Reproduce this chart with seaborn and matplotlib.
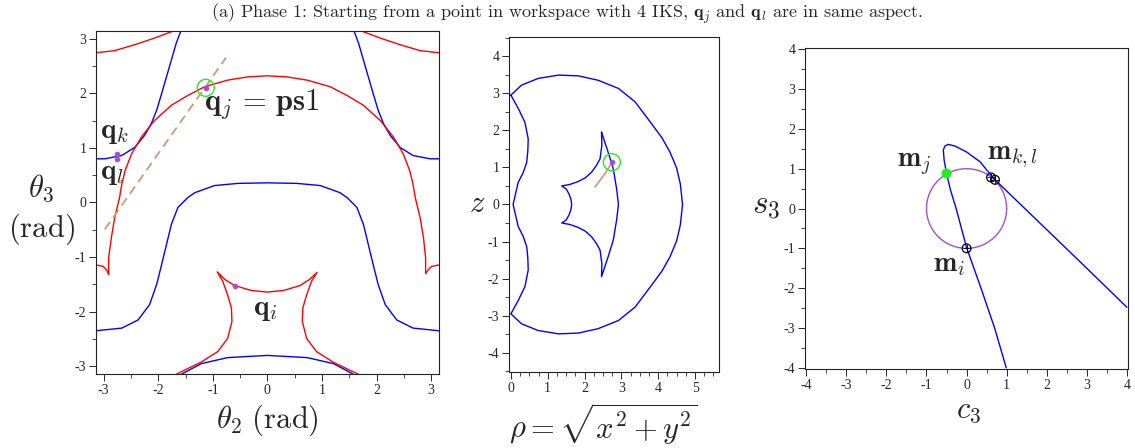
import numpy as np
import pandas as pd
import matplotlib
matplotlib.use("Agg")
import matplotlib.pyplot as plt
import seaborn as sns
from matplotlib.ticker import MultipleLocator

# ---------------- data ----------------
# Left panel: joint space (theta2, theta3)
red_arch_t2 = [-2.91, -2.91, -2.86, -2.80, -2.71, -2.67, -2.61, -2.49, -2.31, -2.07, -1.76, -1.46, -1.15, -0.73, -0.36, 0.0,
               0.36, 0.73, 1.15, 1.46, 1.76, 2.07, 2.31, 2.49, 2.61, 2.67, 2.71, 2.80, 2.86, 2.90, 2.90]
red_arch_t3 = [-1.32, -1.01, -0.64, -0.28, 0.09, 0.33, 0.58, 0.89, 1.20, 1.50, 1.78, 1.96, 2.12, 2.24, 2.30, 2.32,
               2.30, 2.24, 2.12, 1.96, 1.78, 1.50, 1.20, 0.89, 0.58, 0.33, 0.09, -0.28, -0.64, -1.01, -1.30]
red_cuspL_t2 = [-3.16, -3.01, -2.95, -2.91]
red_cuspL_t3 = [-1.14, -1.17, -1.23, -1.32]
red_cuspR_t2 = [3.16, 3.01, 2.95, 2.90]
red_cuspR_t3 = [-1.14, -1.17, -1.23, -1.30]
red_topL_t2 = [-3.16, -2.80, -2.43, -2.07, -1.67, -1.62]
red_topL_t3 = [2.74, 2.78, 2.89, 3.01, 3.16, 3.18]
red_topR_t2 = [3.16, 2.80, 2.43, 2.07, 1.67, 1.62]
red_topR_t3 = [2.74, 2.78, 2.89, 3.01, 3.16, 3.18]
red_bot_t2 = [-1.72, -1.52, -1.21, -0.91, -0.73, -0.65, -0.66, -0.73, -0.82, -0.92,
              -0.78, -0.60, -0.30, 0.0, 0.30, 0.60, 0.77, 0.91,
              0.81, 0.72, 0.65, 0.64, 0.72, 0.90, 1.20, 1.51, 1.72]
red_bot_t3 = [-3.17, -3.07, -2.92, -2.73, -2.49, -2.18, -1.93, -1.69, -1.44, -1.27,
              -1.41, -1.52, -1.61, -1.64, -1.61, -1.52, -1.41, -1.28,
              -1.44, -1.69, -1.93, -2.18, -2.49, -2.73, -2.92, -3.07, -3.17]
blue_topL_t2 = [-1.56, -1.58, -1.67, -1.76, -1.85, -1.94, -2.03, -2.13, -2.25, -2.43, -2.67, -2.98, -3.16]
blue_topL_t3 = [3.20, 3.16, 2.92, 2.61, 2.30, 1.99, 1.69, 1.44, 1.23, 1.01, 0.86, 0.80, 0.80]
blue_topR_t2 = [1.56, 1.58, 1.67, 1.76, 1.85, 1.94, 2.03, 2.13, 2.25, 2.43, 2.67, 2.98, 3.16]
blue_topR_t3 = [3.20, 3.16, 2.92, 2.61, 2.30, 1.99, 1.69, 1.44, 1.23, 1.01, 0.86, 0.80, 0.80]
blue_mid_t2 = [-3.16, -2.67, -2.37, -2.16, -2.03, -1.94, -1.85, -1.76, -1.64, -1.46, -1.33, -0.97, -0.54, 0.0,
               0.54, 0.97, 1.33, 1.46, 1.64, 1.76, 1.85, 1.94, 2.03, 2.16, 2.37, 2.67, 3.16]
blue_mid_t3 = [-2.35, -2.30, -2.15, -1.87, -1.50, -1.14, -0.77, -0.40, -0.09, 0.09, 0.18, 0.31, 0.35, 0.36,
               0.35, 0.31, 0.18, 0.09, -0.09, -0.40, -0.77, -1.14, -1.50, -1.87, -2.15, -2.30, -2.35]
blue_bot_t2 = [-1.62, -1.55, -1.21, -0.73, 0.0, 0.73, 1.21, 1.55, 1.60]
blue_bot_t3 = [-3.17, -3.13, -2.95, -2.84, -2.80, -2.84, -2.95, -3.13, -3.17]
path_t2 = [-2.98, -0.76]
path_t3 = [-0.49, 2.65]
qj_t2, qj_t3 = [-1.13], [2.10]
qkl_t2 = [-2.75, -2.75, -0.59]
qkl_t3 = [0.89, 0.80, -1.52]

# Middle panel: workspace (rho, z)
outer_rho = [0.0, 0.29, 0.74, 1.29, 1.83, 2.37, 2.92, 3.37, 3.78, 4.10, 4.32, 4.50, 4.60, 4.66,
             4.60, 4.50, 4.32, 4.10, 3.78, 3.37, 2.92, 2.37, 1.83, 1.29, 0.74, 0.29, 0.0,
             0.20, 0.38, 0.47, 0.46, 0.43, 0.33, 0.20, 0.06, 0.20, 0.33, 0.43, 0.46, 0.47, 0.38, 0.20, 0.0]
outer_z = [2.95, 3.22, 3.40, 3.49, 3.47, 3.35, 3.13, 2.77, 2.23, 1.80, 1.41, 0.98, 0.55, 0.0,
           -0.55, -0.98, -1.41, -1.80, -2.23, -2.77, -3.13, -3.35, -3.47, -3.49, -3.40, -3.22, -2.95,
           -2.59, -2.22, -1.77, -1.45, -1.14, -0.85, -0.60, 0.0, 0.60, 0.85, 1.14, 1.45, 1.77, 2.22, 2.59, 2.95]
inner_rho = [2.46, 2.47, 2.42, 2.32, 2.19, 2.02, 1.83, 1.60, 1.38, 1.50, 1.58, 1.63, 1.65, 1.63, 1.58, 1.50, 1.38,
             1.60, 1.83, 2.02, 2.19, 2.32, 2.42, 2.47, 2.46, 2.64, 2.78, 2.87, 2.92, 2.87, 2.78, 2.64, 2.46]
inner_z = [1.95, 1.60, 1.23, 1.05, 0.87, 0.72, 0.62, 0.54, 0.50, 0.42, 0.28, 0.14, 0.0, -0.14, -0.28, -0.42, -0.50,
           -0.54, -0.62, -0.72, -0.87, -1.05, -1.23, -1.60, -1.95, -1.41, -0.96, -0.42, 0.0, 0.42, 0.96, 1.41, 1.95]
ws_path_rho = [2.28, 2.42, 2.58, 2.69, 2.74]
ws_path_z = [0.47, 0.65, 0.87, 1.05, 1.12]
ws_pt_rho, ws_pt_z = [2.74], [1.14]

# Right panel: (c3, s3)
curve_c3 = [0.99, 0.70, 0.36, 0.0, -0.26, -0.40, -0.50, -0.56, -0.58, -0.54, -0.46, -0.29, 0.0, 0.34, 0.67,
            1.0, 2.0, 3.0, 4.0]
curve_s3 = [-4.0, -3.0, -2.0, -0.98, 0.0, 0.46, 0.88, 1.22, 1.47, 1.57, 1.61, 1.57, 1.42, 1.17, 0.76,
            0.44, -0.53, -1.50, -2.48]
circle_angle_deg = list(range(0, 361, 5))
mj_c3, mj_s3 = [-0.51], [0.88]
mo_c3 = [0.0, 0.61, 0.71]
mo_s3 = [-1.0, 0.78, 0.72]

# ---------------- style ----------------
sns.set_style("ticks")
plt.rcParams['font.family'] = ['Liberation Serif', 'DejaVu Serif']
plt.rcParams['mathtext.fontset'] = 'cm'
plt.rcParams['axes.unicode_minus'] = False

RED = "#ff0000"
BLUE = "#0000ff"
PURPLE = "#a050d0"
BROWN = "#cc9977"
GREEN = "#22ee22"
LW = 1.0

fig = plt.figure(figsize=(11.35, 4.48), dpi=100)
axL = fig.add_axes([0.0846, 0.165, 0.302, 0.766])
axM = fig.add_axes([0.4485, 0.1696, 0.185, 0.748])
axR = fig.add_axes([0.7093, 0.1763, 0.2846, 0.7165])


def curve(ax, xs, ys, color, lw=LW, ls='-'):
    sns.lineplot(x=xs, y=ys, sort=False, estimator=None, color=color, lw=lw,
                 linestyle=ls, ax=ax, legend=False)


# Left
for xs, ys in [(blue_topL_t2, blue_topL_t3), (blue_topR_t2, blue_topR_t3),
               (blue_mid_t2, blue_mid_t3), (blue_bot_t2, blue_bot_t3)]:
    curve(axL, xs, ys, BLUE)
for xs, ys in [(red_arch_t2, red_arch_t3), (red_cuspL_t2, red_cuspL_t3), (red_cuspR_t2, red_cuspR_t3),
               (red_topL_t2, red_topL_t3), (red_topR_t2, red_topR_t3), (red_bot_t2, red_bot_t3)]:
    curve(axL, xs, ys, RED)
curve(axL, path_t2, path_t3, BROWN, lw=1.3, ls=(0, (5, 3)))
sns.scatterplot(x=qkl_t2, y=qkl_t3, color=PURPLE, s=14, edgecolor=PURPLE, ax=axL, zorder=5)
sns.scatterplot(x=qj_t2, y=qj_t3, color=PURPLE, s=14, edgecolor=PURPLE, ax=axL, zorder=5)
axL.scatter(qj_t2, qj_t3, s=150, facecolors='none', edgecolors=GREEN, linewidths=1.0, zorder=6)
axL.set_xlim(-np.pi, np.pi)
axL.set_ylim(-np.pi, np.pi)
axL.text(-1.17, 1.80, r"$\mathbf{q}_j\,=\,\mathbf{ps1}$", fontsize=22, ha='left', va='center')
axL.text(-3.07, 1.27, r"$\mathbf{q}_k$", fontsize=21, ha='left', va='center')
axL.text(-3.07, 0.52, r"$\mathbf{q}_l$", fontsize=21, ha='left', va='center')
axL.text(-0.27, -1.97, r"$\mathbf{q}_i$", fontsize=21, ha='left', va='center')
axL.xaxis.set_major_locator(MultipleLocator(1))
axL.xaxis.set_minor_locator(MultipleLocator(0.5))
axL.yaxis.set_major_locator(MultipleLocator(1))
axL.yaxis.set_minor_locator(MultipleLocator(0.5))
axL.set_xlabel(r"$\theta_2\ \mathrm{(rad)}$", fontsize=22)
axL.xaxis.set_label_coords(0.5, -0.135)
axL.xaxis.label.set_va('center')
axL.set_ylabel(r"$\theta_3$" + "\n" + r"$\mathrm{(rad)}$", fontsize=22, rotation=0, linespacing=1.3)
axL.yaxis.set_label_coords(-0.16, 0.48)
axL.yaxis.label.set_va('center')
axL.yaxis.label.set_ha('center')

# Middle
curve(axM, outer_rho, outer_z, BLUE)
curve(axM, inner_rho, inner_z, BLUE)
curve(axM, ws_path_rho, ws_path_z, BROWN, lw=1.2)
sns.scatterplot(x=ws_pt_rho, y=ws_pt_z, color=PURPLE, s=14, edgecolor=PURPLE, ax=axM, zorder=5)
axM.scatter(ws_pt_rho, ws_pt_z, s=150, facecolors='none', edgecolors=GREEN, linewidths=1.0, zorder=6)
axM.set_xlim(-0.05, 5.65)
axM.set_ylim(-4.52, 4.52)
axM.xaxis.set_major_locator(MultipleLocator(1))
axM.xaxis.set_minor_locator(MultipleLocator(0.25))
axM.yaxis.set_major_locator(MultipleLocator(1))
axM.yaxis.set_minor_locator(MultipleLocator(0.5))
axM.set_xlabel(r"$\rho = \sqrt{x^2+y^2}$", fontsize=22)
axM.xaxis.set_label_coords(0.45, -0.155)
axM.xaxis.label.set_va('center')
axM.set_ylabel(r"$z$", fontsize=22, rotation=0)
axM.yaxis.set_label_coords(-0.15, 0.5)
axM.yaxis.label.set_va('center')
axM.yaxis.label.set_ha('center')

# Right
ang = np.deg2rad(circle_angle_deg)
curve(axR, list(np.cos(ang)), list(np.sin(ang)), PURPLE)
curve(axR, curve_c3, curve_s3, BLUE)
sns.scatterplot(x=mj_c3, y=mj_s3, color=GREEN, s=45, edgecolor=GREEN, ax=axR, zorder=6)
axR.scatter(mo_c3, mo_s3, s=40, facecolors='none', edgecolors='black', linewidths=0.9, zorder=6)
axR.scatter(mo_c3, mo_s3, s=40, marker='+', color='black', linewidths=0.6, zorder=6)
axR.set_xlim(-4.03, 4.03)
axR.set_ylim(-4.03, 4.03)
axR.text(-1.74, 1.09, r"$\mathbf{m}_j$", fontsize=20, ha='left', va='center')
axR.text(0.51, 1.29, r"$\mathbf{m}_{k,l}$", fontsize=20, ha='left', va='center')
axR.text(-0.84, -1.44, r"$\mathbf{m}_i$", fontsize=20, ha='left', va='center')
axR.xaxis.set_major_locator(MultipleLocator(1))
axR.xaxis.set_minor_locator(MultipleLocator(0.5))
axR.yaxis.set_major_locator(MultipleLocator(1))
axR.yaxis.set_minor_locator(MultipleLocator(0.5))
axR.set_xlabel(r"$c_3$", fontsize=22)
axR.xaxis.set_label_coords(0.505, -0.128)
axR.xaxis.label.set_va('center')
axR.set_ylabel(r"$s_3$", fontsize=24, rotation=0)
axR.yaxis.set_label_coords(-0.12, 0.51)
axR.yaxis.label.set_va('center')
axR.yaxis.label.set_ha('center')

for ax in (axL, axM, axR):
    for sp in ax.spines.values():
        sp.set_visible(True)
        sp.set_color('#222222')
        sp.set_linewidth(0.8)
    ax.tick_params(which='major', direction='out', length=5, width=0.7, labelsize=10, pad=2,
                   top=False, right=False)
    ax.tick_params(which='minor', direction='out', length=3, width=0.6, top=False, right=False)

fig.text(0.5, 0.968, r"(a) Phase 1: Starting from a point in workspace with 4 IKS, $\mathbf{q}_j$ and $\mathbf{q}_l$ are in same aspect.",
         ha='center', va='center', fontsize=13, family='cmr10')

fig.savefig("out.png", dpi=100)
